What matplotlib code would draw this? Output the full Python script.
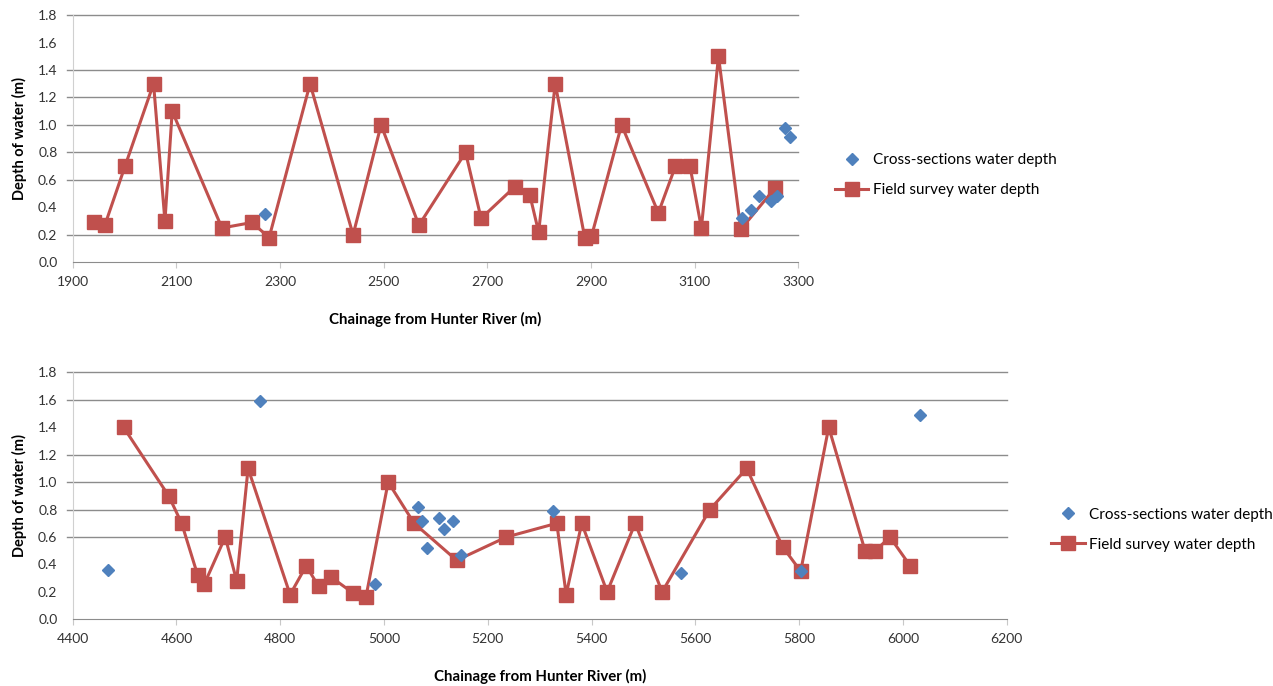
import matplotlib

matplotlib.use("Agg")
import matplotlib.pyplot as plt

plt.rcParams["font.family"] = ["Lato", "DejaVu Sans"]

# ---------------------------------------------------------------------------
# data
# ---------------------------------------------------------------------------
top_field_x = [1942, 1962, 2001, 2056, 2078, 2092, 2188, 2246, 2279, 2358, 2441, 2495, 2568,
               2658, 2688, 2753, 2782, 2799, 2831, 2888, 2901, 2959, 3030, 3063, 3091, 3113,
               3146, 3189, 3255]
top_field_y = [0.29, 0.27, 0.70, 1.30, 0.30, 1.10, 0.25, 0.29, 0.18, 1.30, 0.20, 1.00, 0.27,
               0.80, 0.32, 0.55, 0.49, 0.22, 1.30, 0.18, 0.19, 1.00, 0.36, 0.70, 0.70, 0.25,
               1.50, 0.24, 0.54]
top_xs_x = [2271, 3192, 3208, 3225, 3247, 3258, 3274, 3284]
top_xs_y = [0.35, 0.32, 0.38, 0.48, 0.45, 0.48, 0.98, 0.91]

bot_field_x = [4498, 4585, 4610, 4641, 4654, 4694, 4716, 4738, 4819, 4850, 4874, 4897, 4941,
               4965, 5008, 5058, 5140, 5236, 5333, 5351, 5381, 5430, 5484, 5536, 5628, 5699,
               5768, 5803, 5857, 5927, 5947, 5975, 6014]
bot_field_y = [1.40, 0.90, 0.70, 0.32, 0.26, 0.60, 0.28, 1.10, 0.18, 0.39, 0.24, 0.31, 0.19,
               0.16, 1.00, 0.70, 0.43, 0.60, 0.70, 0.18, 0.70, 0.20, 0.70, 0.20, 0.80, 1.10,
               0.53, 0.35, 1.40, 0.50, 0.50, 0.60, 0.39]
bot_xs_x = [4469, 4761, 4983, 5065, 5074, 5082, 5105, 5116, 5132, 5148, 5326, 5573, 5803, 6033]
bot_xs_y = [0.36, 1.59, 0.26, 0.82, 0.72, 0.52, 0.74, 0.66, 0.72, 0.47, 0.79, 0.34, 0.35, 1.49]

top_xticks = [1900, 2100, 2300, 2500, 2700, 2900, 3100, 3300]
bot_xticks = [4400, 4600, 4800, 5000, 5200, 5400, 5600, 5800, 6000, 6200]
y_ticks = [0.0, 0.2, 0.4, 0.6, 0.8, 1.0, 1.2, 1.4, 1.6, 1.8]
# gridlines that actually show up in the reference
top_grid = [0.2, 0.6, 0.8, 1.0, 1.2, 1.4, 1.8]
bot_grid = [0.6, 0.8, 1.0, 1.2, 1.6, 1.8]

RED = "#C0504D"
BLUE = "#4F81BD"
GRID = "#8C8C8C"

fig = plt.figure(figsize=(12.73, 6.86), dpi=100)
ax_top = fig.add_axes([0.0571, 0.6176, 0.5700, 0.3605])
ax_bot = fig.add_axes([0.0571, 0.0972, 0.7337, 0.3600])


def style_axes(ax, xticks, grid_levels, width_px):
    ax.set_xlim(xticks[0], xticks[-1])
    ax.set_ylim(0, 1.8)
    ax.set_xticks(xticks)
    ax.set_yticks(y_ticks)
    ax.set_yticklabels([f"{v:.1f}" for v in y_ticks])
    for y in grid_levels:
        ax.axhline(y, xmin=-6 / width_px, xmax=1, color=GRID, lw=1.0, clip_on=False, zorder=0)
    for s in ["top", "right"]:
        ax.spines[s].set_visible(False)
    ax.spines["left"].set_color("#D0D0D0")
    ax.spines["bottom"].set_color(GRID)
    ax.tick_params(axis="y", length=0, pad=11, labelsize=10, colors="#333333")
    ax.tick_params(axis="x", length=4, color="#C8C8C8", pad=6, labelsize=10,
                   labelcolor="#333333")
    ax.set_ylabel("Depth of water (m)", fontsize=10.5, fontweight="bold", labelpad=8)
    ax.set_xlabel("Chainage from Hunter River (m)", fontsize=10.8, fontweight="bold",
                  labelpad=17)


style_axes(ax_top, top_xticks, top_grid, 725)
style_axes(ax_bot, bot_xticks, bot_grid, 934)

for ax, xs_x, xs_y, f_x, f_y in [
    (ax_top, top_xs_x, top_xs_y, top_field_x, top_field_y),
    (ax_bot, bot_xs_x, bot_xs_y, bot_field_x, bot_field_y),
]:
    ax.plot(xs_x, xs_y, ls="none", marker="D", ms=6, color=BLUE,
            label="Cross-sections water depth", zorder=4)
    ax.plot(f_x, f_y, color=RED, lw=2.2, marker="s", ms=10,
            label="Field survey water depth", zorder=3)

ax_top.legend(loc="center left", bbox_to_anchor=(0.645, 0.745), bbox_transform=fig.transFigure,
              frameon=False, fontsize=11, handlelength=2.2, labelspacing=1.05,
              handletextpad=0.3)
ax_bot.legend(loc="center left", bbox_to_anchor=(0.815, 0.228), bbox_transform=fig.transFigure,
              frameon=False, fontsize=11, handlelength=2.2, labelspacing=1.05,
              handletextpad=0.3)

fig.savefig("out.png", dpi=100)
